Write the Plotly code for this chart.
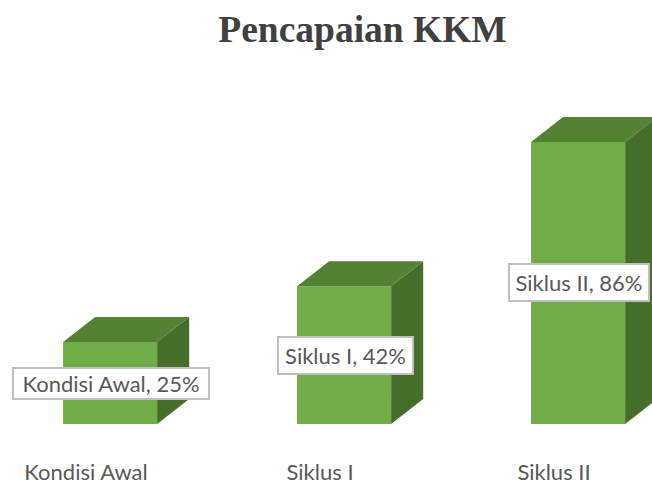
import plotly.graph_objects as go

categories = ["Kondisi Awal", "Siklus I", "Siklus II"]
values = [25, 42, 86]
title_text = "Pencapaian KKM"

BAR_SHIFT = 0.103
BAR_W = 0.402
DEPTH_X = 0.137
DEPTH_Y = 7.6
FRONT, TOP, SIDE = "#70AD47", "#548235", "#476D2B"
px_per_x = 234.0
px_per_y = 3.28
label_w = [194, 133, 138]
label_h = [29, 35, 35]

fig = go.Figure()
idx = list(range(len(categories)))
centres = [i + BAR_SHIFT for i in idx]

for c, v in zip(centres, values):
    l, r = c - BAR_W / 2, c + BAR_W / 2
    fig.add_trace(go.Scatter(
        x=[l, l + DEPTH_X, r + DEPTH_X, r, l], y=[v, v + DEPTH_Y, v + DEPTH_Y, v, v],
        fill="toself", fillcolor=TOP, mode="none", hoverinfo="skip", showlegend=False))
    fig.add_trace(go.Scatter(
        x=[r, r + DEPTH_X, r + DEPTH_X, r, r], y=[0, DEPTH_Y, v + DEPTH_Y, v, 0],
        fill="toself", fillcolor=SIDE, mode="none", hoverinfo="skip", showlegend=False))

fig.add_trace(go.Bar(x=centres, y=values, width=BAR_W, marker=dict(color=FRONT, line_width=0),
                     hoverinfo="skip", showlegend=False))

for c, v, cat, w, h in zip(centres, values, categories, label_w, label_h):
    fig.add_annotation(x=c + 0.004, y=v / 2, xref="x", yref="y", text=f"{cat}, {v}%", showarrow=False,
                       width=w, height=h, align="center", valign="middle",
                       font=dict(family="Lato, Open Sans, sans-serif", size=22, color="#595959"),
                       bgcolor="white", bordercolor="#BFBFBF", borderwidth=2, borderpad=0)

fig.update_layout(
    width=652, height=481, autosize=False, paper_bgcolor="white", plot_bgcolor="white",
    margin=dict(l=0, r=0, t=0, b=57), barmode="overlay",
    title=dict(text=f"<b>{title_text}</b>", x=362.5 / 652, xanchor="center", y=1 - 29 / 481, yanchor="middle",
               font=dict(family="Liberation Serif", size=37.5, color="#404040")),
    xaxis=dict(range=[-86 / px_per_x, (652 - 86) / px_per_x], tickmode="array", tickvals=idx, ticktext=categories,
               showgrid=False, zeroline=False, showline=False, ticks="outside", ticklen=29, automargin=False,
               tickcolor="rgba(0,0,0,0)", tickfont=dict(family="Lato, Open Sans, sans-serif", size=22, color="#595959")),
    yaxis=dict(range=[0, 424 / px_per_y], visible=False),
)
fig.write_html("out.html", post_script="document.body.style.margin='0';", config={"displayModeBar": False})
